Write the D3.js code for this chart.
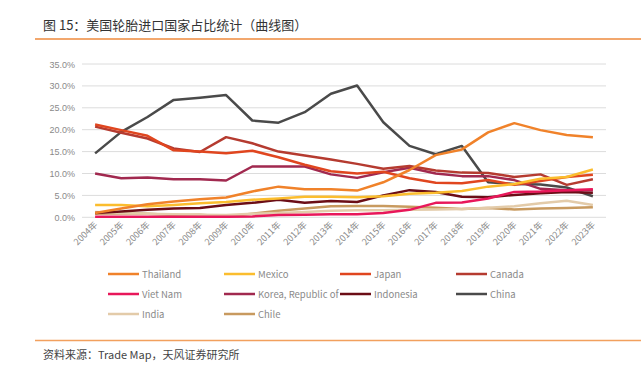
<!DOCTYPE html>
<html>
<head>
<meta charset="utf-8">
<script src="https://cdn.jsdelivr.net/npm/d3@7"></script>
<style>
  body { margin: 0; background: #fff; }
  svg { display: block; font-family: "Noto Sans CJK SC", "Noto Sans", sans-serif; }
</style>
</head>
<body>
<svg id="chart" width="641" height="368"></svg>
<script>
// years on the x axis
const years = ["2004年","2005年","2006年","2007年","2008年","2009年","2010年","2011年","2012年","2013年",
               "2014年","2015年","2016年","2017年","2018年","2019年","2020年","2021年","2022年","2023年"];

// share of US tyre imports, %
const thailand  = [1.0, 2.0, 3.0, 3.6, 4.1, 4.5, 5.9, 7.0, 6.4, 6.4, 6.1, 8.0, 10.8, 14.2, 15.5, 19.4, 21.5, 19.9, 18.8, 18.3];
const mexico    = [2.8, 2.8, 2.5, 2.8, 3.2, 3.5, 4.0, 4.3, 4.7, 4.7, 4.6, 4.8, 5.4, 5.6, 6.0, 7.0, 7.6, 8.8, 9.2, 10.9];
const japan     = [21.2, 19.9, 18.6, 15.3, 15.0, 14.6, 15.2, 13.7, 12.0, 10.5, 10.0, 10.4, 8.9, 7.9, 7.8, 8.5, 7.4, 8.3, 9.2, 9.7];
const canada    = [20.7, 19.3, 18.0, 15.7, 14.9, 18.3, 16.9, 15.0, 14.1, 13.2, 12.2, 11.1, 11.7, 10.7, 10.2, 10.1, 9.2, 9.8, 7.4, 8.7];
const vietNam   = [0.1, 0.1, 0.1, 0.1, 0.1, 0.1, 0.2, 0.5, 0.6, 0.7, 0.7, 1.0, 1.7, 3.3, 3.4, 4.3, 5.8, 5.9, 6.2, 6.4];
const korea     = [10.0, 8.9, 9.1, 8.7, 8.7, 8.4, 11.6, 11.6, 11.6, 9.8, 9.0, 10.3, 11.3, 10.0, 9.4, 9.4, 8.5, 6.5, 6.2, 6.2];
const indonesia = [1.0, 1.3, 1.7, 2.0, 2.1, 2.8, 3.3, 4.0, 3.3, 3.7, 3.5, 5.0, 6.2, 5.8, 4.7, 4.6, 5.1, 5.5, 5.8, 5.6];
const china     = [14.6, 19.5, 22.9, 26.8, 27.3, 27.9, 22.1, 21.6, 24.0, 28.2, 30.1, 21.7, 16.3, 14.4, 16.3, 8.0, 7.6, 7.5, 6.8, 4.8];
const india     = [1.2, 1.0, 0.8, 0.7, 0.6, 0.5, 0.8, 1.0, 1.2, 1.5, 1.6, 1.6, 1.7, 1.8, 1.9, 2.2, 2.5, 3.2, 3.8, 2.8];
const chile     = [0.8, 0.9, 0.8, 0.5, 0.6, 0.2, 0.8, 1.5, 2.0, 2.5, 2.6, 2.6, 2.4, 2.2, 1.9, 2.1, 1.8, 2.0, 2.1, 2.3];

const yTicks = [0, 5, 10, 15, 20, 25, 30, 35];

const series = [
  { name: "Thailand", values: thailand, color: "#f0822a" },
  { name: "Mexico", values: mexico, color: "#fbbd2e" },
  { name: "Japan", values: japan, color: "#e0461f" },
  { name: "Canada", values: canada, color: "#b53b30" },
  { name: "Viet Nam", values: vietNam, color: "#e8175a" },
  { name: "Korea, Republic of", values: korea, color: "#a1294f" },
  { name: "Indonesia", values: indonesia, color: "#6b0d16" },
  { name: "China", values: china, color: "#4a4a4a" },
  { name: "India", values: india, color: "#e3cba9" },
  { name: "Chile", values: chile, color: "#c89a5f" }
];

const svg = d3.select("#chart");
const plot = { left: 82, right: 606, top: 64, bottom: 217.3 };

// title + rules
svg.append("text")
  .attr("x", 43).attr("y", 30)
  .attr("font-size", 13).attr("fill", "#333")
  .text("图 15：美国轮胎进口国家占比统计（曲线图）");
svg.append("line")
  .attr("x1", 35).attr("x2", 641).attr("y1", 39).attr("y2", 39)
  .attr("stroke", "#ee8a3c").attr("stroke-width", 1.5);
svg.append("line")
  .attr("x1", 35).attr("x2", 641).attr("y1", 340.5).attr("y2", 340.5)
  .attr("stroke", "#f2a05e").attr("stroke-width", 1.5);
svg.append("text")
  .attr("x", 43).attr("y", 359)
  .attr("font-size", 11).attr("fill", "#444")
  .text("资料来源：Trade Map，天风证券研究所");

const x = d3.scaleBand().domain(years).range([plot.left, plot.right]);
const y = d3.scaleLinear().domain([0, 35]).range([plot.bottom, plot.top]);

// gridlines
svg.append("g")
  .selectAll("line")
  .data(yTicks)
  .join("line")
  .attr("x1", plot.left).attr("x2", plot.right)
  .attr("y1", d => y(d)).attr("y2", d => y(d))
  .attr("stroke", "#dcdcdc").attr("stroke-width", 1);

// y axis labels
svg.append("g")
  .selectAll("text")
  .data(yTicks)
  .join("text")
  .attr("x", 75).attr("y", d => y(d) + 3.5)
  .attr("text-anchor", "end")
  .attr("font-size", 9).attr("fill", "#8a8a8a")
  .attr("font-family", "Liberation Sans, sans-serif")
  .text(d => d.toFixed(1) + "%");

// x axis labels, rotated
svg.append("g")
  .selectAll("text")
  .data(years)
  .join("text")
  .attr("transform", d => `translate(${x(d) + x.bandwidth() / 2 + 3},${plot.bottom + 8}) rotate(-45)`)
  .attr("text-anchor", "end")
  .attr("font-size", 9).attr("fill", "#8a8a8a")
  .text(d => d);

// lines
const line = d3.line()
  .x((d, i) => x(years[i]) + x.bandwidth() / 2)
  .y(d => y(d));

svg.append("g")
  .selectAll("path")
  .data(series.slice().reverse())
  .join("path")
  .attr("d", d => line(d.values))
  .attr("fill", "none")
  .attr("stroke", d => d.color)
  .attr("stroke-width", 2.5)
  .attr("stroke-linejoin", "round");

// legend
const legend = svg.append("g");
series.forEach((s, i) => {
  const col = i % 4, row = Math.floor(i / 4);
  const lx = 108 + col * 116, ly = 274 + row * 20;
  legend.append("line")
    .attr("x1", lx).attr("x2", lx + 31).attr("y1", ly).attr("y2", ly)
    .attr("stroke", s.color).attr("stroke-width", 2.5);
  legend.append("text")
    .attr("x", lx + 34).attr("y", ly + 3.5)
    .attr("font-size", 9.5).attr("fill", "#8a8a8a")
    .text(s.name);
});
</script>
</body>
</html>
